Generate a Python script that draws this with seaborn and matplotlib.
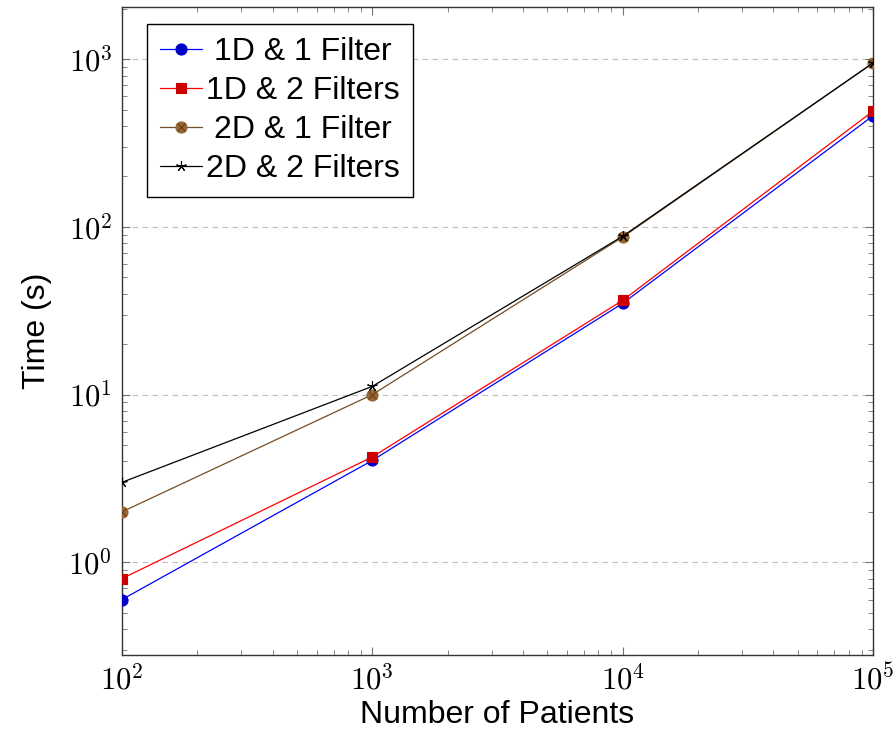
import numpy as np
import pandas as pd
import matplotlib
matplotlib.use("Agg")
import matplotlib.pyplot as plt
import seaborn as sns
from matplotlib.lines import Line2D
from matplotlib.ticker import FuncFormatter, LogLocator, NullFormatter

patients = [100, 1000, 10000, 100000]
t_1d_1f = [0.6, 4.05, 35, 460]
t_1d_2f = [0.8, 4.25, 36.5, 490]
t_2d_1f = [2.0, 10.0, 87, 950]
t_2d_2f = [3.0, 11.2, 88, 950]
labels = ["1D & 1 Filter", "1D & 2 Filters", "2D & 1 Filter", "2D & 2 Filters"]

sns.set_theme(style="white")
plt.rcParams["font.family"] = ["Liberation Sans", "DejaVu Sans"]
plt.rcParams["mathtext.fontset"] = "cm"
plt.rcParams["text.color"] = "black"
plt.rcParams["axes.labelcolor"] = "black"

fig = plt.figure(figsize=(8.95, 7.35), dpi=100)
ax = fig.add_axes([0.1363, 0.1088, 0.9754 - 0.1363, 0.9905 - 0.1088])

line_colors = ["#0000FF", "#FF0000", "#734D26", "#000000"]
fill_colors = ["#0000CC", "#CC0000", "#996633", "#000000"]
markers = ["o", "s", "o", (5, 2, 0)]
msizes = [8, 7.5, 8, 7.5]
series = [t_1d_1f, t_1d_2f, t_2d_1f, t_2d_2f]

handles = []
for i, (ys, lab) in enumerate(zip(series, labels)):
    df = pd.DataFrame({"x": patients, "y": ys})
    sns.lineplot(data=df, x="x", y="y", ax=ax, color=line_colors[i], lw=0.9,
                 marker=markers[i], markersize=msizes[i],
                 markerfacecolor=fill_colors[i],
                 markeredgecolor=(fill_colors[i] if i < 3 else "#000000"),
                 markeredgewidth=0.8, zorder=3 + i)
    h = Line2D([], [], color=line_colors[i], lw=0.9, marker=markers[i],
               markersize=msizes[i], markerfacecolor=fill_colors[i],
               markeredgecolor=(fill_colors[i] if i < 3 else "#000000"),
               markeredgewidth=0.8)
    if i == 2:
        ax.plot(patients, ys, ls="none", marker="x", markersize=5.5,
                markeredgecolor="#5a3a1a", markeredgewidth=0.7, zorder=6)
        hx = Line2D([], [], ls="none", marker="x", markersize=5.5,
                    markeredgecolor="#5a3a1a", markeredgewidth=0.7)
        h = (h, hx)
    handles.append(h)

ax.set_xscale("log")
ax.set_yscale("log")
ax.set_xlim(100, 100000)
ax.set_ylim(0.28, 2050)

fmt = FuncFormatter(lambda v, p: r"$10^{%d}$" % int(round(np.log10(v))))
ax.xaxis.set_major_locator(LogLocator(base=10, numticks=10))
ax.yaxis.set_major_locator(LogLocator(base=10, numticks=10))
ax.xaxis.set_minor_locator(LogLocator(base=10, subs=np.arange(2, 10), numticks=20))
ax.yaxis.set_minor_locator(LogLocator(base=10, subs=np.arange(2, 10), numticks=20))
ax.xaxis.set_major_formatter(fmt)
ax.yaxis.set_major_formatter(fmt)
ax.xaxis.set_minor_formatter(NullFormatter())
ax.yaxis.set_minor_formatter(NullFormatter())

ax.tick_params(which="both", direction="in", top=True, right=True,
               bottom=True, left=True, color="0.45", labelcolor="black",
               labelsize=22)
ax.tick_params(which="major", length=6, width=0.8, pad=7)
ax.tick_params(which="minor", length=3.5, width=0.6)

ax.grid(False)
ax.yaxis.grid(True, which="major", ls=(0, (5, 4)), color="0.75", lw=0.8)
ax.set_axisbelow(True)

for s in ax.spines.values():
    s.set_color("0.2")
    s.set_linewidth(1.0)

ax.set_xlabel("Number of Patients", fontsize=23, labelpad=2, color="black")
ax.set_ylabel("Time (s)", fontsize=23, labelpad=12, color="black")

leg = ax.legend(handles, labels, loc="upper left", bbox_to_anchor=(0.033, 0.974),
                fontsize=23, frameon=True, fancybox=False, framealpha=1,
                edgecolor="black", handlelength=1.3, handletextpad=0.12,
                borderpad=0.42, labelspacing=0.28, borderaxespad=0)
leg.get_frame().set_linewidth(1.0)
for t in leg.get_texts():
    t.set_color("black")

fig.canvas.draw()
r = fig.canvas.get_renderer()
ws = [t.get_window_extent(r).width for t in leg.get_texts()]
mw = max(ws)
for t, w in zip(leg.get_texts(), ws):
    t.set_x((mw - w) / 2)

fig.savefig("out.png", dpi=100)
